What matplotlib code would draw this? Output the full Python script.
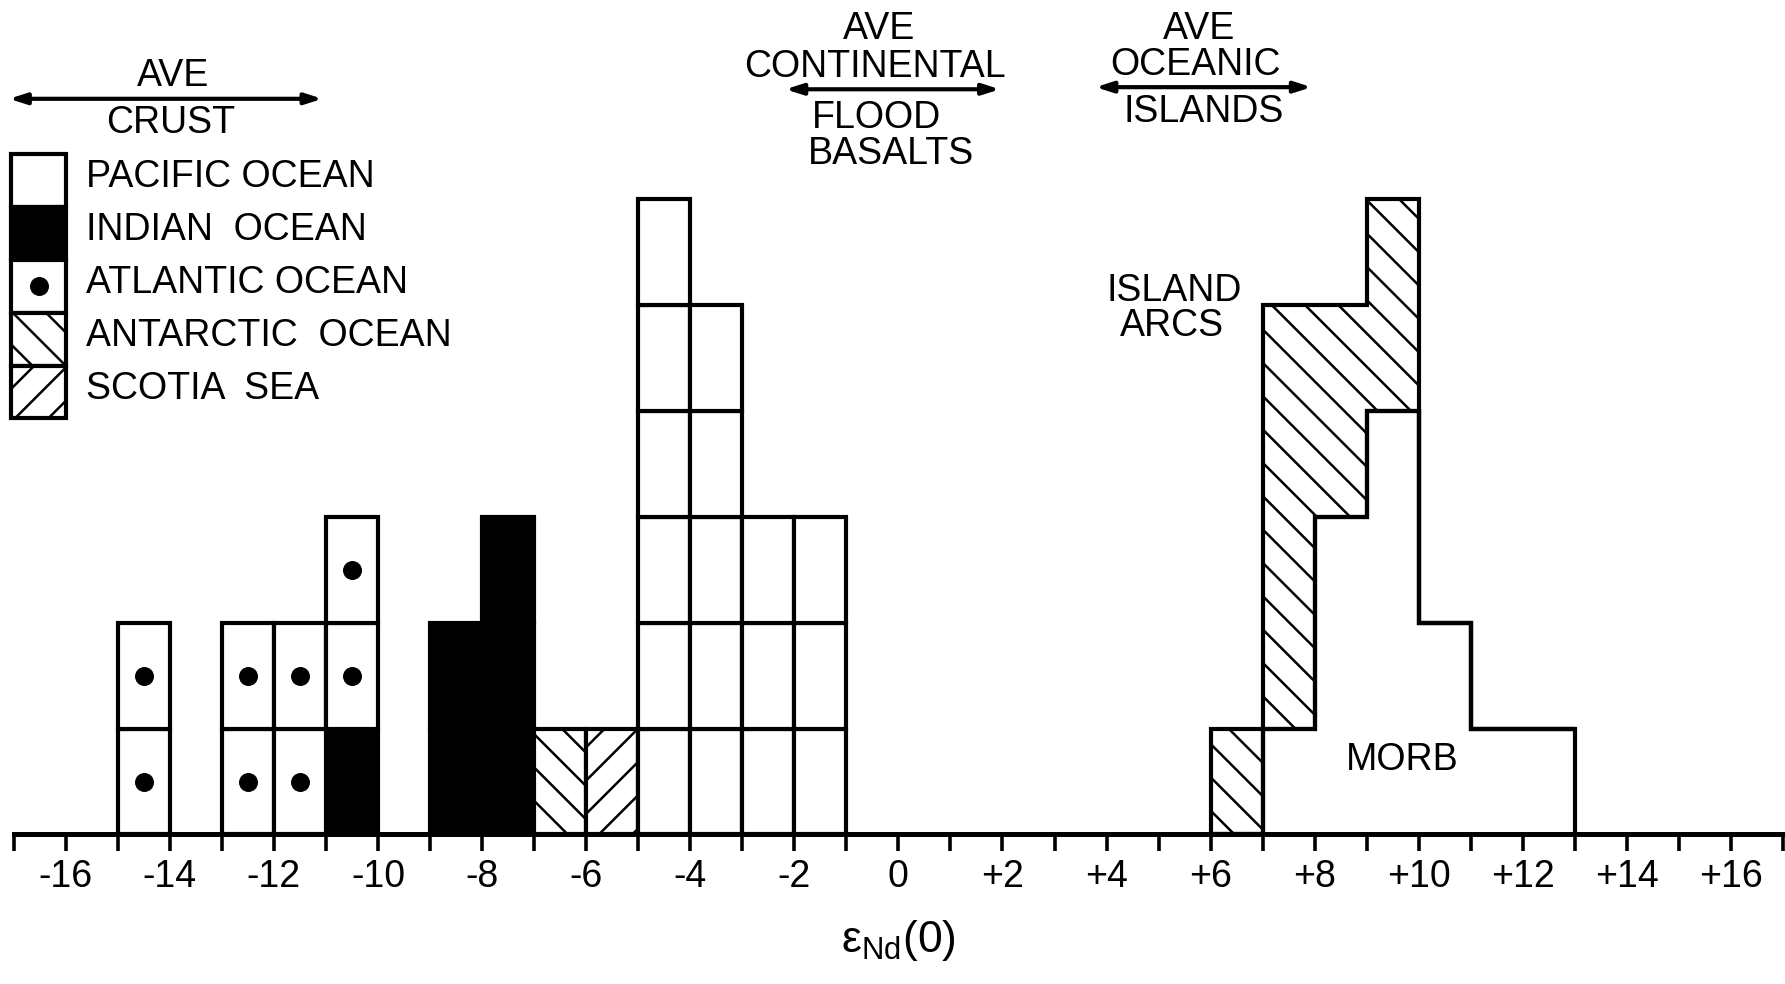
import numpy as np
import matplotlib
matplotlib.use('Agg')
import matplotlib.pyplot as plt
from matplotlib.patches import Rectangle

plt.rcParams['font.family'] = ['Liberation Sans', 'DejaVu Sans']
plt.rcParams['mathtext.fontset'] = 'custom'
plt.rcParams['mathtext.rm'] = 'Liberation Sans'
plt.rcParams['hatch.linewidth'] = 1.8

# sediment eNd histogram, left edges of 1-unit bins
bins = np.arange(-15, -1)
indian = [0, 0, 0, 0, 1, 0, 2, 3, 0, 0, 0, 0, 0, 0]
atlantic = [2, 0, 2, 2, 2, 0, 0, 0, 0, 0, 0, 0, 0, 0]
antarctic = [0, 0, 0, 0, 0, 0, 0, 0, 1, 0, 0, 0, 0, 0]
scotia = [0, 0, 0, 0, 0, 0, 0, 0, 0, 1, 0, 0, 0, 0]
pacific = [0, 0, 0, 0, 0, 0, 0, 0, 0, 0, 6, 5, 3, 3]

# MORB and island arc outlines (bin edges +6 .. +13)
morb_edges = np.arange(6, 14)
morb = [0, 1, 3, 4, 2, 1, 1]
arcs = [1, 4, 2, 2, 0, 0, 0]

oceans = ['PACIFIC OCEAN', 'INDIAN  OCEAN', 'ATLANTIC OCEAN', 'ANTARCTIC  OCEAN', 'SCOTIA  SEA']

# style per ocean: facecolor, hatch, dot
styles = {
    'PACIFIC OCEAN': ('white', None, False),
    'INDIAN  OCEAN': ('black', None, False),
    'ATLANTIC OCEAN': ('white', None, True),
    'ANTARCTIC  OCEAN': ('white', '\\', False),
    'SCOTIA  SEA': ('white', '/', False),
}
stack_order = [('INDIAN  OCEAN', indian), ('ATLANTIC OCEAN', atlantic),
               ('ANTARCTIC  OCEAN', antarctic), ('SCOTIA  SEA', scotia),
               ('PACIFIC OCEAN', pacific)]

FS = 27
LW = 3.0

fig = plt.figure(figsize=(17.85, 9.84), dpi=100)
ax = fig.add_axes([0.0077, 0.152, 0.9912, 0.8444])

# stacked single boxes
bottom = np.zeros(len(bins))
for name, counts in stack_order:
    fc, hatch, dot = styles[name]
    for i, x in enumerate(bins):
        for k in range(counts[i]):
            y = bottom[i] + k
            ax.bar(x, 1, bottom=y, width=1, align='edge', facecolor=fc,
                   edgecolor='black', linewidth=LW, hatch=hatch, zorder=2)
            if dot:
                ax.scatter(x + 0.5, y + 0.5, s=160, color='black', zorder=3)
    bottom += np.array(counts)

# MORB (white) and island arcs (hatched, stacked on MORB)
ax.stairs(np.array(morb) + np.array(arcs), morb_edges, baseline=morb, fill=True,
          facecolor='white', edgecolor='black', hatch='\\', linewidth=LW, zorder=2)
ax.stairs(morb, morb_edges, baseline=0, fill=False, color='black', linewidth=LW, zorder=2)

# legend drawn by hand
leg_top = 6.43
for j, name in enumerate(oceans):
    fc, hatch, dot = styles[name]
    y0 = leg_top - 0.5 * (j + 1)
    ax.add_patch(Rectangle((-17.05, y0), 1.05, 0.5, facecolor=fc, edgecolor='black',
                           linewidth=LW, hatch=hatch, clip_on=False, zorder=2))
    if dot:
        ax.scatter(-16.52, y0 + 0.25, s=160, color='black', zorder=3, clip_on=False)
    ax.text(-15.62, y0 + 0.28, name, fontsize=FS, ha='left', va='center')

# averages with double arrows
arrow_kw = dict(arrowstyle='<|-|>,head_length=1.0,head_width=0.32', lw=3, color='black',
                shrinkA=0, shrinkB=0)
ax.annotate('', xy=(-11.07, 6.95), xytext=(-17.09, 6.95), arrowprops=arrow_kw,
            annotation_clip=False)
ax.text(-13.94, 7.17, 'AVE', fontsize=FS, ha='center', va='center')
ax.text(-13.98, 6.72, 'CRUST', fontsize=FS, ha='center', va='center')

ax.annotate('', xy=(1.95, 7.04), xytext=(-2.17, 7.04), arrowprops=arrow_kw)
ax.text(-0.37, 7.61, 'AVE', fontsize=FS, ha='center', va='center')
ax.text(-0.46, 7.25, 'CONTINENTAL', fontsize=FS, ha='center', va='center')
ax.text(-0.42, 6.77, 'FLOOD', fontsize=FS, ha='center', va='center')
ax.text(-0.15, 6.43, 'BASALTS', fontsize=FS, ha='center', va='center')

ax.annotate('', xy=(7.94, 7.06), xytext=(3.79, 7.06), arrowprops=arrow_kw)
ax.text(5.78, 7.61, 'AVE', fontsize=FS, ha='center', va='center')
ax.text(5.71, 7.27, 'OCEANIC', fontsize=FS, ha='center', va='center')
ax.text(5.86, 6.83, 'ISLANDS', fontsize=FS, ha='center', va='center')

ax.text(5.3, 5.13, 'ISLAND', fontsize=FS, ha='center', va='center')
ax.text(5.25, 4.80, 'ARCS', fontsize=FS, ha='center', va='center')
ax.text(9.69, 0.70, 'MORB', fontsize=FS, ha='center', va='center')

# axis
ticks = np.arange(-17, 18)
labels = []
for t in ticks:
    if t % 2:
        labels.append('')
    elif t > 0:
        labels.append('+%d' % t)
    else:
        labels.append('%d' % t)
ax.set_xlim(-17, 17)
ax.set_ylim(0, 7.85)
ax.set_xticks(ticks)
ax.set_xticklabels(labels, fontsize=FS)
ax.tick_params(axis='x', direction='out', length=12, width=2.6, pad=6)
ax.set_yticks([])
for s in ['top', 'left', 'right']:
    ax.spines[s].set_visible(False)
ax.spines['bottom'].set_linewidth(3.6)
ax.spines['bottom'].set_zorder(4)
ax.patch.set_visible(False)
ax.set_xlabel(r'ε$_{\mathrm{Nd}}$(0)', fontsize=32, labelpad=16)

fig.savefig('out.png', dpi=100)
